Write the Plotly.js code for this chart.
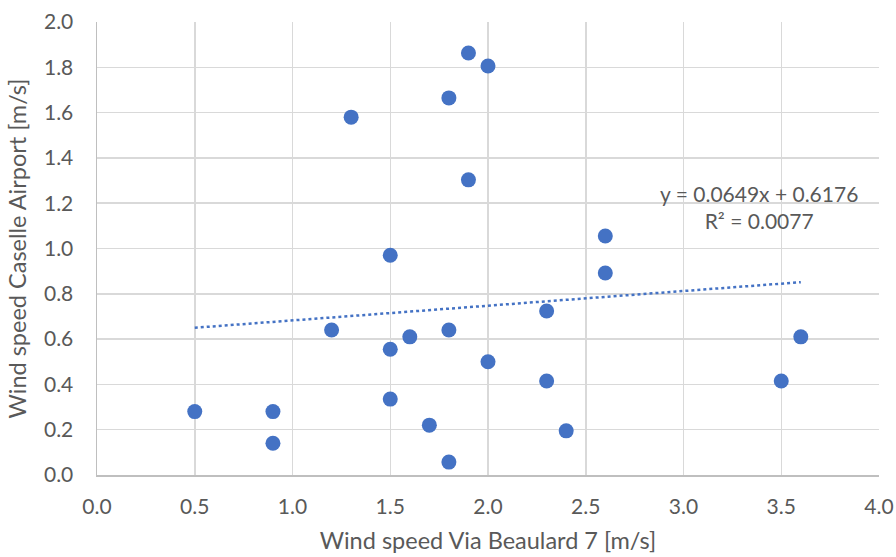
<!DOCTYPE html>
<html><head><meta charset="utf-8">
<script src="https://cdn.plot.ly/plotly-3.0.1.min.js"></script>
<style>html,body{margin:0;padding:0;background:#fff;}#chart{width:896px;height:557px;}</style>
</head><body><div id="chart"></div>
<script>
const beaulard = [0.5, 0.9, 0.9, 1.2, 1.3, 1.5, 1.5, 1.5, 1.6, 1.7, 1.8, 1.8, 1.8, 1.9, 1.9, 2.0, 2.0, 2.3, 2.3, 2.4, 2.6, 2.6, 3.5, 3.6];
const caselle  = [0.28, 0.28, 0.14, 0.64, 1.58, 0.97, 0.555, 0.335, 0.61, 0.22, 1.665, 0.64, 0.057, 1.863, 1.303, 1.806, 0.50, 0.724, 0.415, 0.195, 1.055, 0.892, 0.415, 0.61];
const slope = 0.0649, intercept = 0.6176, r2 = 0.0077;
const xMin = Math.min(...beaulard), xMax = Math.max(...beaulard);
const trendX = [xMin, xMax];
const trendY = trendX.map(v => slope * v + intercept);
const blue = '#4472C4';
const font = 'Lato, Open Sans, sans-serif';
const data = [
  {x: trendX, y: trendY, mode: 'lines', line: {color: blue, width: 2.5, dash: 'dot'}, hoverinfo: 'skip'},
  {x: beaulard, y: caselle, mode: 'markers', marker: {color: blue, size: 15}}
];
const layout = {
  width: 896, height: 557, showlegend: false,
  paper_bgcolor: '#fff', plot_bgcolor: '#fff',
  margin: {l: 97, r: 17, t: 22, b: 82},
  font: {family: font, color: '#595959', size: 16},
  xaxis: {range: [0, 4], dtick: 0.5, tickformat: '.1f', showgrid: true, gridcolor: '#d9d9d9', gridwidth: 1.5,
    showline: true, linecolor: '#bfbfbf', linewidth: 1.5, zeroline: false, ticks: '', ticklen: 0,
    ticklabelstandoff: 12,
    tickfont: {size: 21, color: '#595959'},
    title: {text: 'Wind speed Via Beaulard 7 [m/s]', font: {size: 23.5, color: '#595959'}, standoff: 16}},
  yaxis: {range: [0, 2], dtick: 0.2, tickformat: '.1f', showgrid: true, gridcolor: '#d9d9d9', gridwidth: 1.5,
    showline: true, linecolor: '#bfbfbf', linewidth: 1.5, zeroline: false, ticks: '', ticklen: 0,
    ticklabelstandoff: 18,
    tickfont: {size: 21, color: '#595959'},
    title: {text: 'Wind speed Caselle Airport [m/s]', font: {size: 23.5, color: '#595959'}, standoff: 10}},
  annotations: [
    {xref: 'x', yref: 'y', x: 3.386, y: 1.183, text: 'y = ' + slope + 'x + ' + intercept + '<br>R² = ' + r2,
     showarrow: false, align: 'center', font: {size: 21, color: '#595959', family: font}}
  ]
};
Plotly.newPlot('chart', data, layout, {displayModeBar: false, staticPlot: true});
</script></body></html>
